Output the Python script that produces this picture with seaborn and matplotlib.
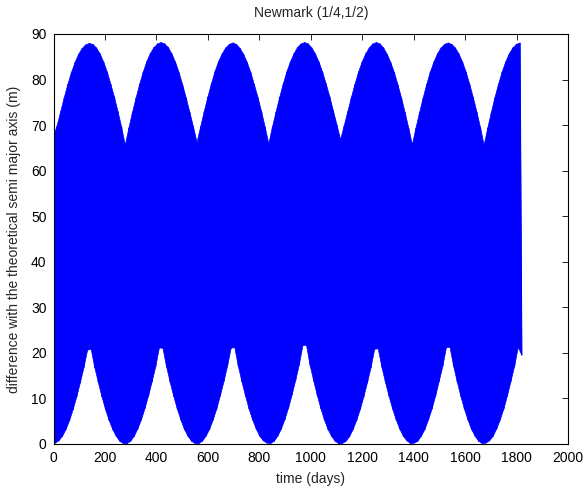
import numpy as np
import pandas as pd
import matplotlib
matplotlib.use('Agg')
import matplotlib.pyplot as plt
import seaborn as sns

# envelope of the fast oscillation (m), one value per sample
upper_env = [
    67.5, 69.8, 72.9, 76.0, 78.9, 81.5, 83.7, 85.5, 86.8, 87.6, 87.9, 87.7, 86.9, 85.6, 83.8, 81.6, 78.9, 76.1, 72.9, 69.5,
    65.6, 69.3, 72.7, 75.9, 78.9, 81.6, 83.9, 85.7, 87.0, 87.8, 88.1, 87.8, 87.0, 85.6, 83.8, 81.5, 78.8, 75.9, 72.8, 69.6,
    66.2, 69.6, 72.9, 76.1, 79.0, 81.7, 83.9, 85.6, 86.9, 87.7, 88.0, 87.7, 86.8, 85.5, 83.7, 81.5, 78.8, 76.0, 72.9, 69.5,
    65.9, 69.5, 72.8, 76.0, 78.9, 81.6, 83.8, 85.6, 87.0, 87.8, 88.1, 87.8, 86.9, 85.6, 83.8, 81.6, 79.0, 76.2, 73.1, 70.0,
    66.8, 69.8, 72.9, 76.0, 78.9, 81.6, 83.8, 85.6, 86.9, 87.8, 88.1, 87.8, 86.9, 85.5, 83.7, 81.5, 78.8, 75.9, 72.7, 69.3,
    65.7, 69.3, 72.7, 75.9, 78.9, 81.6, 83.8, 85.6, 86.9, 87.7, 88.0, 87.7, 86.9, 85.6, 83.8, 81.6, 78.9, 76.0, 72.8, 69.4,
    65.6, 69.3, 72.7, 76.0, 78.9, 81.6, 83.8, 85.6, 86.9, 87.7, 88.0,
]
lower_env = [
    0.2, 0.7, 1.7, 3.2, 5.2, 7.6, 10.4, 13.5, 16.8, 20.6, 20.8, 16.8, 13.5, 10.4, 7.6, 5.2, 3.2, 1.7, 0.6, 0.1,
    0.1, 0.6, 1.7, 3.3, 5.3, 7.8, 10.6, 13.7, 17.0, 21.1, 21.0, 17.0, 13.6, 10.5, 7.7, 5.3, 3.2, 1.7, 0.6, 0.1,
    0.1, 0.6, 1.7, 3.2, 5.3, 7.7, 10.6, 13.7, 17.1, 21.0, 21.2, 17.1, 13.7, 10.6, 7.7, 5.3, 3.3, 1.7, 0.7, 0.2,
    0.1, 0.6, 1.7, 3.3, 5.4, 7.9, 10.8, 14.0, 17.4, 21.6, 21.7, 17.3, 13.9, 10.7, 7.8, 5.3, 3.2, 1.7, 0.6, 0.1,
    0.1, 0.6, 1.6, 3.2, 5.2, 7.6, 10.4, 13.5, 16.8, 20.8, 20.9, 16.9, 13.6, 10.5, 7.7, 5.3, 3.3, 1.7, 0.7, 0.1,
    0.2, 0.6, 1.7, 3.2, 5.3, 7.7, 10.6, 13.8, 17.1, 21.2, 21.2, 17.1, 13.7, 10.5, 7.7, 5.3, 3.2, 1.7, 0.6, 0.1,
    0.2, 0.7, 1.7, 3.3, 5.3, 7.7, 10.6, 13.8, 17.1, 21.2, 19.5,
]
step_days = 13.95  # sampling of the time axis
x_ticks = list(range(0, 2001, 200))
y_ticks = list(range(0, 91, 10))

# zigzag: upper value at t, lower value half a step later
t = np.arange(len(upper_env)) * step_days
t_low = t + step_days / 2
days = np.column_stack([t, t_low]).ravel()
diff = np.column_stack([upper_env, lower_env]).ravel()
df = pd.DataFrame({'days': days, 'diff': diff})

sns.set_style('white')
plt.rcParams['font.family'] = ['Liberation Sans', 'DejaVu Sans']

fig = plt.figure(figsize=(5.86, 4.87), dpi=100)
ax = fig.add_axes([0.0913, 0.0883, 0.878, 0.842])

# the oscillation is far too fast to resolve: it shows as a band between the envelopes
band_x = np.concatenate([t, t_low[::-1]])
band_y = np.concatenate([upper_env, lower_env[::-1]])
ax.fill(band_x, band_y, color='#0000ff', linewidth=0.5)
sns.lineplot(data=df, x='days', y='diff', sort=False, estimator=None,
             color='#0000ff', linewidth=0.8, ax=ax)

ax.set_xlim(0, 2000)
ax.set_ylim(0, 90)
ax.set_xticks(x_ticks)
ax.set_yticks(y_ticks)
ax.tick_params(direction='in', length=4, width=0.6, top=True, right=True,
               labelsize=10, colors='black', pad=5)
for s in ax.spines.values():
    s.set_color('black')
    s.set_linewidth(0.8)
ax.set_xlabel('time (days)', fontsize=10, labelpad=5)
ax.set_ylabel('difference with the theoretical semi major axis (m)', fontsize=10, labelpad=7)
ax.set_title('Newmark (1/4,1/2)', fontsize=10, pad=12)

fig.savefig('out.png', dpi=100)
